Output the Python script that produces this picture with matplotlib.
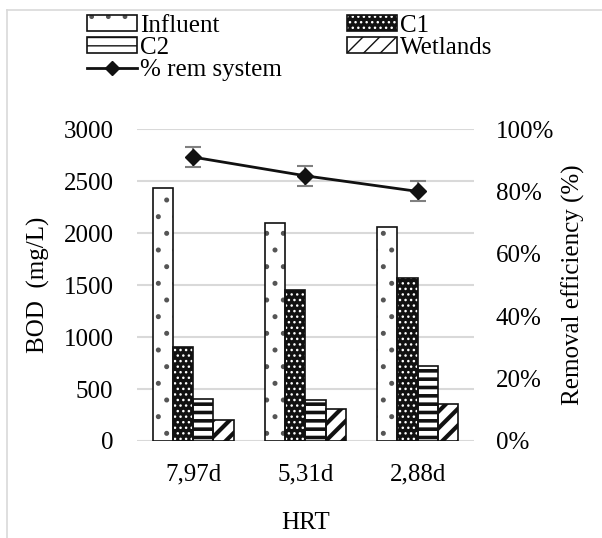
import numpy as np
import matplotlib
matplotlib.use('Agg')
import matplotlib.pyplot as plt
from matplotlib.ticker import PercentFormatter
from matplotlib.lines import Line2D

plt.rcParams['font.family'] = ['Liberation Serif', 'DejaVu Serif']

hrt = ['7,97d', '5,31d', '2,88d']
influent = [2430, 2100, 2060]
c1 = [900, 1455, 1570]
c2 = [405, 395, 720]
wetlands = [200, 310, 355]
removal = [0.91, 0.85, 0.80]
removal_err = [0.033, 0.033, 0.032]

fig = plt.figure(figsize=(6.02, 5.38), dpi=100)
ax = fig.add_axes([0.2276, 0.1803, 0.5594, 0.5799])
ax2 = ax.twinx()

x = np.arange(len(hrt))
w = 0.18
grey = '#d9d9d9'
fs = 18

# (values, face, hatch colour, hatch, hatch linewidth)
styles = [
    (influent, 'white', '#555555', '.', 1.2),
    (c1, '#111111', 'white', '...', 1.0),
    (c2, 'white', '#111111', '--', 2.6),
    (wetlands, 'white', '#111111', '//', 3.0),
]
handles = []
for i, (vals, face, hc, hatch, hlw) in enumerate(styles):
    pos = x + (i - 1.5) * w
    with plt.rc_context({'hatch.linewidth': hlw}):
        hb = ax.bar(pos, vals, w, color=face, edgecolor=hc, hatch=hatch,
                    linewidth=0, zorder=2)
    ob = ax.bar(pos, vals, w, fill=False, edgecolor='#111111', linewidth=1.2,
                zorder=3)
    handles.append((hb.patches[0], ob.patches[0]))

ax.set_xlim(-0.5, 2.5)
ax.set_ylim(0, 3000)
ax.set_yticks(np.arange(0, 3001, 500))
ax.yaxis.grid(True, color=grey, linewidth=1.5)
ax.set_axisbelow(True)
for s in ax.spines.values():
    s.set_visible(False)
for s in ax2.spines.values():
    s.set_visible(False)
ax.tick_params(length=0, labelsize=fs)
ax.tick_params(axis='y', pad=17)
ax.tick_params(axis='x', pad=16.5)
ax.set_xticks(x)
ax.set_xticklabels(hrt)
ax.set_ylabel('BOD  (mg/L)', fontsize=fs, labelpad=10)
ax.set_xlabel('HRT', fontsize=fs, labelpad=18.5)

ax2.errorbar(x, removal, yerr=removal_err, color='#111111', linewidth=2,
             marker='D', markersize=8, ecolor='#808080', elinewidth=1.5,
             capsize=6, capthick=1.5, zorder=5)
ax2.set_ylim(0, 1)
ax2.set_yticks(np.arange(0, 1.01, 0.2))
ax2.yaxis.set_major_formatter(PercentFormatter(1.0, decimals=0))
ax2.tick_params(length=0, labelsize=fs, pad=16)
ax2.set_ylabel('Removal efficiency (%)', fontsize=fs, labelpad=5)

line_h = Line2D([], [], color='#111111', linewidth=2, marker='D', markersize=7)
# column-major order so rows read: Influent C1 / C2 Wetlands / % rem system
leg_handles = [handles[0], handles[2], line_h, handles[1], handles[3]]
leg_labels = ['Influent', 'C2', '% rem system', 'C1', 'Wetlands']
fig.legend(leg_handles, leg_labels, ncol=2, loc='upper left',
           bbox_to_anchor=(87 / 602, 1 - 15 / 538), frameon=False, fontsize=fs,
           handlelength=2.0, handleheight=0.6, handletextpad=0.12,
           columnspacing=2.6, labelspacing=0.0, borderpad=0, borderaxespad=0)

# light chart-area border (left and top)
fig.add_artist(Line2D([7 / 602, 7 / 602], [0, 1 - 10 / 538], color=grey,
                      linewidth=1.2, transform=fig.transFigure))
fig.add_artist(Line2D([7 / 602, 1], [1 - 10 / 538, 1 - 10 / 538], color=grey,
                      linewidth=1.2, transform=fig.transFigure))

fig.savefig('out.png', dpi=100)
